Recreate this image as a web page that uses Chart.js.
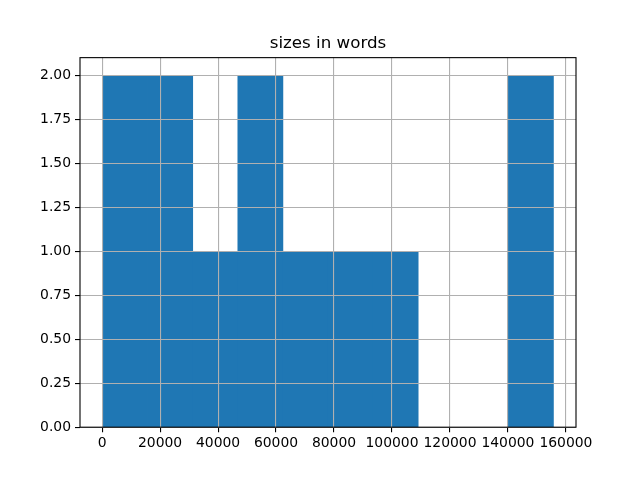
<!DOCTYPE html>
<html>
<head>
<meta charset="utf-8">
<script src="https://cdn.jsdelivr.net/npm/chart.js@4/dist/chart.umd.min.js"></script>
<style>
html,body{margin:0;padding:0;background:#fff;}
#wrap{width:640px;height:480px;}
</style>
</head>
<body>
<div id="wrap"><canvas id="c" width="640" height="480"></canvas></div>
<script>
const titleText = 'sizes in words';
const binEdges = [150, 15705, 31260, 46815, 62370, 77925, 93480, 109035, 124590, 140145, 155700];
const counts = [2, 2, 1, 2, 1, 1, 1, 0, 0, 2];
const xTicks = [0, 20000, 40000, 60000, 80000, 100000, 120000, 140000, 160000];
const yTicks = [0, 0.25, 0.5, 0.75, 1.0, 1.25, 1.5, 1.75, 2.0];
const xRange = [-7630, 163480];
const yRange = [0, 2.1];

const points = counts.map((c, i) => ({x: (binEdges[i] + binEdges[i + 1]) / 2, y: c === 0 ? null : c}));

const font = {family: 'DejaVu Sans', size: 13.9};

const framePlugin = {
  id: 'frame',
  afterDraw(chart) {
    const a = chart.chartArea, ctx = chart.ctx;
    ctx.save();
    ctx.strokeStyle = '#000';
    ctx.lineWidth = 1.1;
    ctx.strokeRect(a.left, a.top, a.right - a.left, a.bottom - a.top);
    ctx.restore();
  }
};

new Chart(document.getElementById('c'), {
  type: 'bar',
  data: {
    datasets: [{
      data: points,
      backgroundColor: '#1f77b4',
      borderWidth: 0,
      barPercentage: 1,
      categoryPercentage: 1
    }]
  },
  options: {
    responsive: false,
    animation: false,
    devicePixelRatio: 1,
    layout: {padding: {left: 0, right: 64, top: 0, bottom: 0}},
    plugins: {
      legend: {display: false},
      tooltip: {enabled: false},
      title: {
        display: true,
        text: titleText,
        fullSize: false,
        color: '#000',
        font: {family: 'DejaVu Sans', size: 16.7, weight: 'normal', lineHeight: 1.2},
        padding: {top: 34, bottom: 3.6}
      }
    },
    scales: {
      x: {
        type: 'linear',
        min: xRange[0],
        max: xRange[1],
        offset: false,
        afterBuildTicks(s) { s.ticks = xTicks.map(v => ({value: v})); },
        afterFit(s) { s.height = 52.8; },
        ticks: {
          color: '#000', font: font, padding: 3, maxRotation: 0,
          callback: v => String(v)
        },
        grid: {z: 1, offset: false, color: '#b0b0b0', lineWidth: 1.1, tickColor: '#000', tickLength: 5, tickWidth: 1.1},
        border: {display: false}
      },
      y: {
        type: 'linear',
        min: yRange[0],
        max: yRange[1],
        afterBuildTicks(s) { s.ticks = yTicks.map(v => ({value: v})); },
        afterFit(s) { s.width = 80; },
        ticks: {
          color: '#000', font: font, padding: 4,
          callback: v => Number(v).toFixed(2)
        },
        grid: {z: 1, offset: false, color: '#b0b0b0', lineWidth: 1.1, tickColor: '#000', tickLength: 5, tickWidth: 1.1},
        border: {display: false}
      }
    }
  },
  plugins: [framePlugin]
});
</script>
</body>
</html>
